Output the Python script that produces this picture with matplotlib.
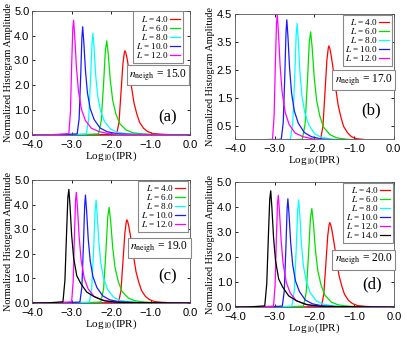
import numpy as np
import matplotlib
matplotlib.use("Agg")
import matplotlib.pyplot as plt

plt.rcParams['font.family'] = ['Liberation Serif', 'DejaVu Serif']
plt.rcParams['mathtext.fontset'] = 'stix'

# ---------------- DATA ----------------
labels_L = ['4.0', '6.0', '8.0', '10.0', '12.0', '14.0']
colors = ['#ff0000', '#00e000', '#00ffff', '#1a1aff', '#ff00ff', '#000000']
n_neigh = ['15.0', '17.0', '19.0', '20.0']
panel_tags = ['(a)', '(b)', '(c)', '(d)']

# panel (a)
xa = [
    [-4.0, -2.3, -1.86, -1.80, -1.75, -1.70, -1.665, -1.65, -1.63, -1.60, -1.54, -1.48, -1.42, -1.35, -1.28, -1.18, -1.08, -0.95, -0.75, -0.5, 0.0],
    [-4.0, -2.8, -2.32, -2.25, -2.19, -2.145, -2.11, -2.07, -2.02, -1.96, -1.88, -1.78, -1.62, -1.45, -1.2, -0.9, 0.0],
    [-4.0, -3.1, -2.63, -2.57, -2.52, -2.485, -2.46, -2.43, -2.39, -2.34, -2.27, -2.17, -2.02, -1.85, -1.6, -1.25, 0.0],
    [-4.0, -3.3, -2.86, -2.81, -2.77, -2.74, -2.72, -2.69, -2.65, -2.60, -2.53, -2.43, -2.28, -2.1, -1.85, -1.5, 0.0],
    [-4.0, -3.5, -3.07, -3.03, -3.0, -2.97, -2.95, -2.92, -2.88, -2.83, -2.75, -2.65, -2.5, -2.3, -2.05, -1.7, 0.0],
]
ya = [
    [0, 0.01, 0.03, 0.51, 1.7, 2.88, 3.32, 3.39, 3.32, 3.12, 2.54, 1.9, 1.29, 0.85, 0.51, 0.27, 0.14, 0.06, 0.03, 0.01, 0],
    [0, 0.01, 0.04, 0.57, 2.08, 3.41, 3.79, 3.22, 2.2, 1.4, 0.85, 0.45, 0.2, 0.09, 0.04, 0.015, 0],
    [0, 0.01, 0.04, 0.61, 2.25, 3.68, 4.09, 3.48, 2.4, 1.58, 0.98, 0.55, 0.24, 0.11, 0.05, 0.02, 0],
    [0, 0.01, 0.04, 0.65, 2.4, 3.92, 4.36, 3.7, 2.6, 1.7, 1.06, 0.62, 0.28, 0.13, 0.05, 0.02, 0],
    [0, 0.01, 0.05, 0.92, 2.77, 4.3, 4.62, 3.93, 2.77, 1.8, 1.02, 0.58, 0.27, 0.13, 0.05, 0.02, 0],
]

# panel (b)
xb = [
    [-4.0, -2.28, -1.84, -1.78, -1.73, -1.68, -1.645, -1.63, -1.61, -1.58, -1.52, -1.46, -1.40, -1.33, -1.26, -1.16, -1.06, -0.93, -0.73, -0.48, 0.0],
    [-4.0, -2.78, -2.30, -2.23, -2.17, -2.125, -2.09, -2.05, -2.0, -1.94, -1.86, -1.76, -1.60, -1.43, -1.18, -0.88, 0.0],
    [-4.0, -3.07, -2.60, -2.54, -2.49, -2.455, -2.43, -2.40, -2.36, -2.31, -2.24, -2.14, -1.99, -1.82, -1.57, -1.22, 0.0],
    [-4.0, -3.27, -2.83, -2.78, -2.74, -2.71, -2.69, -2.66, -2.62, -2.57, -2.50, -2.40, -2.25, -2.07, -1.82, -1.47, 0.0],
    [-4.0, -3.48, -3.05, -3.01, -2.98, -2.95, -2.93, -2.90, -2.86, -2.81, -2.73, -2.63, -2.48, -2.28, -2.03, -1.68, 0.0],
]
yb = [
    [0, 0.01, 0.03, 0.5, 1.68, 2.86, 3.29, 3.36, 3.29, 3.09, 2.52, 1.88, 1.28, 0.84, 0.5, 0.27, 0.13, 0.06, 0.03, 0.01, 0],
    [0, 0.01, 0.04, 0.58, 2.12, 3.47, 3.86, 3.28, 2.24, 1.43, 0.87, 0.46, 0.2, 0.09, 0.04, 0.015, 0],
    [0, 0.01, 0.04, 0.62, 2.29, 3.74, 4.16, 3.54, 2.44, 1.6, 1.0, 0.56, 0.24, 0.11, 0.05, 0.02, 0],
    [0, 0.01, 0.04, 0.64, 2.36, 3.86, 4.29, 3.65, 2.56, 1.68, 1.04, 0.61, 0.28, 0.13, 0.05, 0.02, 0],
    [0, 0.01, 0.04, 0.89, 2.68, 4.16, 4.47, 3.8, 2.68, 1.74, 0.99, 0.56, 0.26, 0.13, 0.05, 0.02, 0],
]

# panel (c)
xc = [
    [-4.0, -2.25, -1.81, -1.75, -1.70, -1.65, -1.615, -1.60, -1.58, -1.55, -1.49, -1.43, -1.37, -1.30, -1.23, -1.13, -1.03, -0.90, -0.70, -0.45, 0.0],
    [-4.0, -2.74, -2.26, -2.19, -2.13, -2.085, -2.05, -2.01, -1.96, -1.90, -1.82, -1.72, -1.56, -1.39, -1.14, -0.84, 0.0],
    [-4.0, -3.02, -2.55, -2.49, -2.44, -2.405, -2.38, -2.35, -2.31, -2.26, -2.19, -2.09, -1.94, -1.77, -1.52, -1.17, 0.0],
    [-4.0, -3.23, -2.79, -2.74, -2.70, -2.67, -2.65, -2.62, -2.58, -2.53, -2.46, -2.36, -2.21, -2.03, -1.78, -1.43, 0.0],
    [-4.0, -3.43, -3.0, -2.96, -2.93, -2.90, -2.88, -2.85, -2.81, -2.76, -2.68, -2.58, -2.43, -2.23, -1.98, -1.63, 0.0],
    [-4.0, -3.6, -3.22, -3.17, -3.13, -3.095, -3.07, -3.04, -3.0, -2.95, -2.87, -2.77, -2.62, -2.42, -2.17, -1.82, 0.0],
]
yc = [
    [0, 0.01, 0.03, 0.51, 1.69, 2.87, 3.31, 3.38, 3.31, 3.11, 2.54, 1.89, 1.28, 0.85, 0.51, 0.27, 0.14, 0.06, 0.03, 0.01, 0],
    [0, 0.01, 0.04, 0.58, 2.14, 3.5, 3.89, 3.31, 2.26, 1.44, 0.88, 0.46, 0.2, 0.09, 0.04, 0.015, 0],
    [0, 0.01, 0.04, 0.63, 2.3, 3.76, 4.18, 3.55, 2.45, 1.61, 1.0, 0.56, 0.24, 0.11, 0.05, 0.02, 0],
    [0, 0.01, 0.04, 0.66, 2.41, 3.95, 4.39, 3.73, 2.62, 1.72, 1.07, 0.63, 0.29, 0.13, 0.05, 0.02, 0],
    [0, 0.01, 0.05, 0.9, 2.7, 4.19, 4.5, 3.83, 2.7, 1.75, 1.0, 0.57, 0.27, 0.13, 0.05, 0.02, 0],
    [0, 0.01, 0.05, 0.92, 2.77, 4.3, 4.62, 3.93, 2.77, 1.85, 1.11, 0.8, 0.45, 0.25, 0.09, 0.03, 0],
]

# panel (d)
xd = [
    [-4.0, -2.27, -1.83, -1.77, -1.72, -1.67, -1.635, -1.62, -1.60, -1.57, -1.51, -1.45, -1.39, -1.32, -1.25, -1.15, -1.05, -0.92, -0.72, -0.47, 0.0],
    [-4.0, -2.76, -2.28, -2.21, -2.15, -2.105, -2.07, -2.03, -1.98, -1.92, -1.84, -1.74, -1.58, -1.41, -1.16, -0.86, 0.0],
    [-4.0, -3.04, -2.57, -2.51, -2.46, -2.425, -2.40, -2.37, -2.33, -2.28, -2.21, -2.11, -1.96, -1.79, -1.54, -1.19, 0.0],
    [-4.0, -3.25, -2.81, -2.76, -2.72, -2.69, -2.67, -2.64, -2.60, -2.55, -2.48, -2.38, -2.23, -2.05, -1.80, -1.45, 0.0],
    [-4.0, -3.46, -3.03, -2.99, -2.96, -2.93, -2.91, -2.88, -2.84, -2.79, -2.71, -2.61, -2.46, -2.26, -2.01, -1.66, 0.0],
    [-4.0, -3.63, -3.25, -3.20, -3.16, -3.125, -3.10, -3.07, -3.03, -2.98, -2.90, -2.80, -2.65, -2.45, -2.20, -1.85, 0.0],
]
yd = [
    [0, 0.01, 0.03, 0.51, 1.69, 2.87, 3.31, 3.38, 3.31, 3.11, 2.54, 1.89, 1.28, 0.85, 0.51, 0.27, 0.14, 0.06, 0.03, 0.01, 0],
    [0, 0.01, 0.04, 0.59, 2.17, 3.55, 3.94, 3.35, 2.29, 1.46, 0.89, 0.47, 0.2, 0.09, 0.04, 0.015, 0],
    [0, 0.01, 0.04, 0.64, 2.36, 3.86, 4.29, 3.65, 2.52, 1.65, 1.03, 0.58, 0.25, 0.12, 0.05, 0.02, 0],
    [0, 0.01, 0.04, 0.65, 2.38, 3.9, 4.33, 3.68, 2.58, 1.7, 1.05, 0.62, 0.28, 0.13, 0.05, 0.02, 0],
    [0, 0.01, 0.04, 0.89, 2.68, 4.16, 4.47, 3.8, 2.68, 1.74, 0.99, 0.56, 0.26, 0.13, 0.05, 0.02, 0],
    [0, 0.01, 0.05, 0.93, 2.79, 4.32, 4.65, 3.95, 2.79, 1.86, 1.12, 0.8, 0.45, 0.25, 0.1, 0.03, 0],
]

xticks = [-4.0, -3.0, -2.0, -1.0, 0.0]
yticks_full = [0.0, 1.0, 2.0, 3.0, 4.0, 5.0]
yticks_b = [0.5, 1.5, 2.5, 3.5, 4.5]

# ---------------- PLOTTING ----------------
fig = plt.figure(figsize=(4.07, 3.39), dpi=100)

boxes = [[0.079, 0.602, 0.388, 0.366],
         [0.577, 0.590, 0.390, 0.369],
         [0.079, 0.106, 0.388, 0.363],
         [0.577, 0.094, 0.392, 0.369]]
xs_all = [xa, xb, xc, xd]
ys_all = [ya, yb, yc, yd]
n_legend = [5, 5, 5, 6]
leg_right = [0.955, 0.99, 0.985, 0.99]
nbox_y = [0.48, 0.47, 0.45, 0.38]
nbox_x = [0.98, 0.995, 0.99, 0.99]
tag_y = [0.14, 0.23, 0.22, 0.18]

for i in range(4):
    ax = fig.add_axes(boxes[i])
    xs = xs_all[i]
    ys = ys_all[i]
    for k in range(len(xs)):
        lab = r'$L$ = ' + labels_L[k] if k < n_legend[i] else None
        ax.plot(xs[k], ys[k], color=colors[k], lw=0.9, label=lab)

    ax.set_xlim(-4.0, 0.0)
    if i == 1:
        ax.set_ylim(0.05, 4.5)
        yt = yticks_b
    else:
        ax.set_ylim(0.0, 5.0)
        yt = yticks_full
    ax.set_yticks(yt)
    ax.set_yticklabels(['%.1f' % v for v in yt], family='Liberation Sans')
    ax.set_xticks(xticks)
    ax.set_xticklabels(['\u2212%.1f' % abs(v) if v < 0 else '%.1f' % v for v in xticks],
                       family='Liberation Sans')
    ax.tick_params(direction='in', length=2.5, width=0.6, top=True, right=True,
                   labelsize=8, pad=2)
    ax.tick_params(axis='x', pad=3.5)
    for s in ax.spines.values():
        s.set_linewidth(0.6)
        s.set_color('#555555')

    ax.set_xlabel(r'Log$_{10}$(IPR)', fontsize=8, labelpad=-0.5)
    ax.set_ylabel('Normalized Histogram Amplitude', fontsize=7.3, labelpad=1)

    leg = ax.legend(loc='upper right', bbox_to_anchor=(leg_right[i], 0.995),
                    markerfirst=False, fancybox=False,
                    edgecolor='#888888', fontsize=6.6, handlelength=1.1,
                    labelspacing=-0.12, borderpad=0.3, handletextpad=0.15,
                    borderaxespad=0.0, framealpha=1)
    leg.get_frame().set_linewidth(0.8)

    ax.text(nbox_x[i], nbox_y[i], r'$n_{\rm neigh}$ = ' + n_neigh[i], transform=ax.transAxes,
            ha='right', va='center', fontsize=8.3,
            bbox=dict(boxstyle='square,pad=0.2', fc='white', ec='#888888', lw=0.8))
    ax.text(0.86, tag_y[i], panel_tags[i], transform=ax.transAxes, ha='center',
            va='center', fontsize=12)

fig.savefig('out.png', dpi=100)
